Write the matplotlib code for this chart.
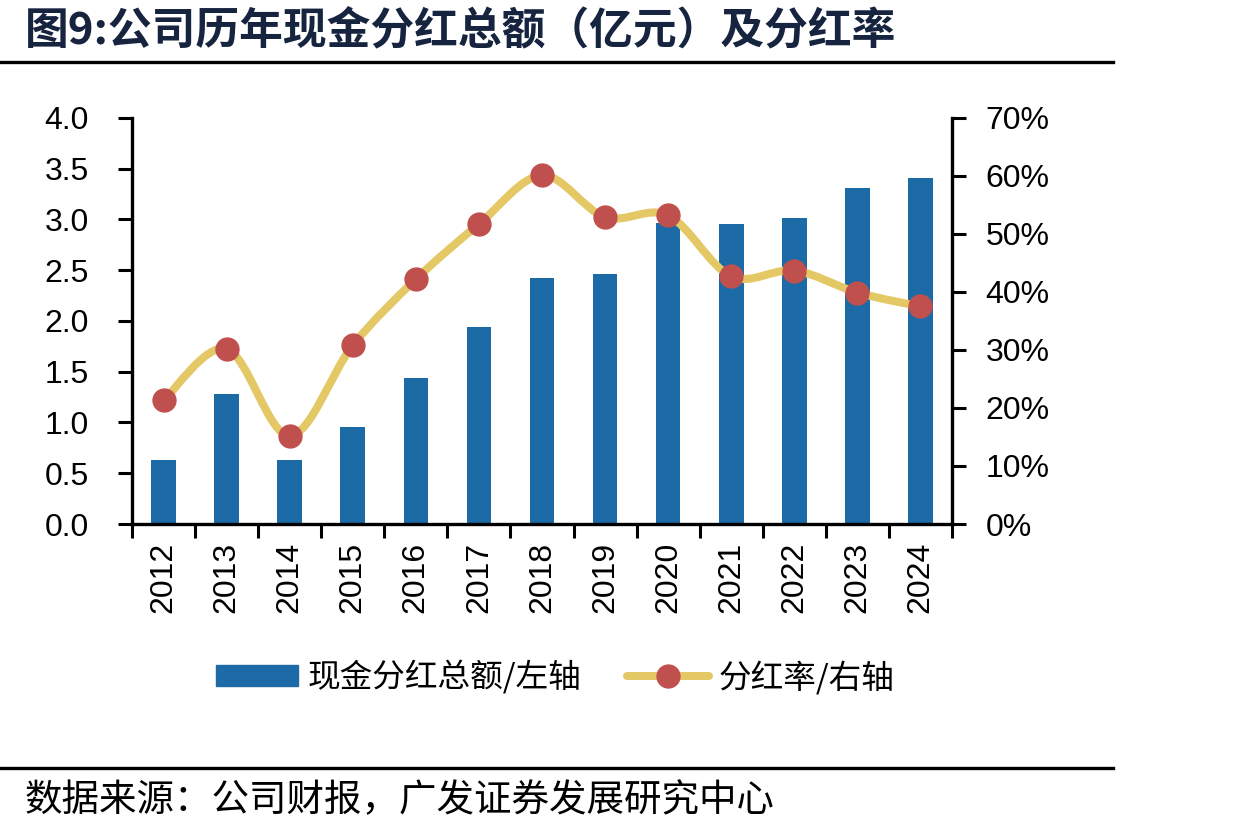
import numpy as np
import matplotlib
matplotlib.use("Agg")
import matplotlib.pyplot as plt
from matplotlib.path import Path
from matplotlib.patches import PathPatch, Patch
from matplotlib.lines import Line2D
from matplotlib.ticker import FuncFormatter, MultipleLocator

years = ['2012', '2013', '2014', '2015', '2016', '2017', '2018',
         '2019', '2020', '2021', '2022', '2023', '2024']
dividend = [0.63, 1.28, 0.63, 0.96, 1.44, 1.94, 2.42, 2.46, 2.97, 2.96, 3.01, 3.31, 3.41]
payout = [21.3, 30.2, 15.2, 30.8, 42.2, 51.7, 60.1, 52.9, 53.2, 42.7, 43.7, 39.9, 37.5]

title = '图9:公司历年现金分红总额（亿元）及分红率'
source = '数据来源：公司财报，广发证券发展研究中心'
bar_label = '现金分红总额/左轴'
line_label = '分红率/右轴'

bar_color = '#1C6BA6'
line_color = '#E5C866'
dot_color = '#C0504D'
cjk = ['Noto Sans CJK SC', 'DejaVu Sans']

plt.rcParams['font.family'] = ['Liberation Sans', 'DejaVu Sans']

fig = plt.figure(figsize=(12.37, 8.38), dpi=100)
ax = fig.add_axes([0.1067, 0.3747, 0.6629, 0.4845])
ax2 = ax.twinx()

x = np.arange(len(years))
ax.bar(x, dividend, width=0.39, color=bar_color, zorder=2)
ax.set_xlim(-0.5, len(years) - 0.5)
ax.set_ylim(0, 4.0)
ax.yaxis.set_major_locator(MultipleLocator(0.5))
ax.yaxis.set_major_formatter(FuncFormatter(lambda v, p: f'{v:.1f}'))
ax.set_xticks(x)
ax.set_xticklabels(years, rotation=90)
ax.set_xticks(np.arange(-0.5, len(years)), minor=True)
ax.tick_params(axis='x', which='major', length=0, pad=13, labelsize=23)
ax.tick_params(axis='x', which='minor', length=10, width=2.2, direction='out')
ax.tick_params(axis='y', length=10, width=2.2, direction='out', pad=21, labelsize=23)

# smoothed line (Excel-style bezier between points)
px = x.astype(float)
py = np.array(payout, dtype=float)
verts = [(px[0], py[0])]
codes = [Path.MOVETO]
n = len(px)
for i in range(n - 1):
    p0 = (px[max(i - 1, 0)], py[max(i - 1, 0)])
    p1 = (px[i], py[i])
    p2 = (px[i + 1], py[i + 1])
    p3 = (px[min(i + 2, n - 1)], py[min(i + 2, n - 1)])
    c1 = (p1[0] + (p2[0] - p0[0]) / 6, p1[1] + (p2[1] - p0[1]) / 6)
    c2 = (p2[0] - (p3[0] - p1[0]) / 6, p2[1] - (p3[1] - p1[1]) / 6)
    verts += [c1, c2, p2]
    codes += [Path.CURVE4] * 3
ax2.add_patch(PathPatch(Path(verts, codes), facecolor='none', edgecolor=line_color,
                        lw=5.8, capstyle='round', joinstyle='round', zorder=3))
ax2.plot(px, py, ls='none', marker='o', ms=16.5, color=dot_color, zorder=4)
ax2.set_ylim(0, 70)
ax2.yaxis.set_major_locator(MultipleLocator(10))
ax2.yaxis.set_major_formatter(FuncFormatter(lambda v, p: f'{v:.0f}%'))
ax2.tick_params(axis='y', length=10, width=2.2, direction='out', pad=14, labelsize=23)

for a in (ax, ax2):
    a.spines['top'].set_visible(False)
    for s in a.spines.values():
        s.set_linewidth(2.4)
ax.spines['right'].set_visible(False)
ax2.spines['left'].set_visible(False)
ax2.spines['bottom'].set_visible(False)

handles = [Patch(color=bar_color),
           Line2D([], [], color=line_color, lw=5.8, marker='o', ms=16.5,
                  markerfacecolor=dot_color, markeredgecolor=dot_color,
                  solid_capstyle='round')]
fig.legend(handles, [bar_label, line_label], loc='center', bbox_to_anchor=(0.449, 0.192),
           ncol=2, frameon=False, prop={'family': cjk, 'size': 23.5},
           handlelength=2.5, handleheight=0.6, handletextpad=0.3, columnspacing=1.4)

fig.text(0.02, 0.962, title, fontsize=31.5, fontweight='bold', color='#16243F',
         family=cjk, va='center', ha='left')
fig.add_artist(Line2D([0, 0.9], [1 - 62 / 838] * 2, color='black', lw=2.4))
fig.add_artist(Line2D([0, 0.9], [1 - 768 / 838] * 2, color='black', lw=2.4))
fig.text(0.02, 1 - 801 / 838, source, fontsize=27, color='black',
         family=cjk, va='center', ha='left')

fig.savefig('out.png', dpi=100)
